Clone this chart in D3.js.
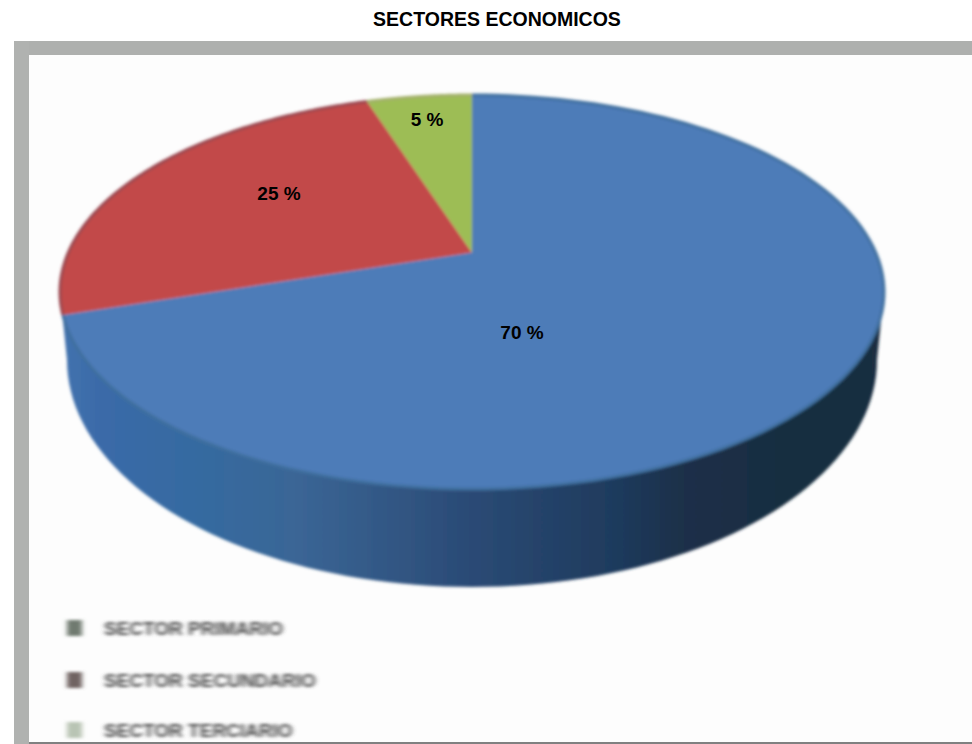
<!DOCTYPE html>
<html>
<head>
<meta charset="utf-8">
<script src="https://cdn.jsdelivr.net/npm/d3@7"></script>
<style>
  html, body { margin: 0; padding: 0; background: #fff; }
  svg { display: block; }
  text { font-family: "Liberation Sans", Arial, sans-serif; }
</style>
</head>
<body>
<svg id="chart"></svg>
<script>
const WIDTH = 972;
const HEIGHT = 744;

const title = 'SECTORES ECONOMICOS';
const shares = [70, 25, 5];
const sliceColors = ['#4d7cb8', '#c24a48', '#9dbd55'];
const rimColors = ['#3f6f9f', '#994650', '#a3b06a'];
const valueLabels = ['70 %', '25 %', '5 %'];
const labelXs = [522, 279, 427];
const labelYs = [339, 200, 126];
const legendNames = ['SECTOR PRIMARIO', 'SECTOR SECUNDARIO', 'SECTOR TERCIARIO'];
const legendColors = ['#707a70', '#6f6462', '#b9c4b4'];
const legendRows = [628, 680, 730];

const svg = d3.select('#chart').attr('width', WIDTH).attr('height', HEIGHT);
const defs = svg.append('defs');

defs.append('filter').attr('id', 'soft').append('feGaussianBlur').attr('stdDeviation', 1.5);
defs.append('filter').attr('id', 'smear').append('feGaussianBlur').attr('stdDeviation', '2.5 1.4');

const wallGrad = defs.append('linearGradient').attr('id', 'wall');
[[0, '#4373ae'], [0.05, '#3a6aa8'], [0.17, '#356aa0'], [0.29, '#3a6595'], [0.5, '#2a4a75'], [0.68, '#1e3a5c'], [0.76, '#1f2f48'], [0.89, '#152f40'], [1, '#1a2c40']]
    .forEach(s => wallGrad.append('stop').attr('offset', s[0]).attr('stop-color', s[1]));

// frame: only the top and left bars are grey, the bottom is a thin dark line
svg.append('rect').attr('x', 14).attr('y', 41).attr('width', 958).attr('height', 703).attr('fill', '#fdfdfd');
svg.append('rect').attr('x', 14).attr('y', 41).attr('width', 958).attr('height', 14).attr('fill', '#aeb0ae');
svg.append('rect').attr('x', 14).attr('y', 41).attr('width', 15).attr('height', 703).attr('fill', '#b0b2b0');
svg.append('rect').attr('x', 29).attr('y', 742).attr('width', 943).attr('height', 2).attr('fill', '#808080');

svg.append('text').attr('x', 497).attr('y', 26).attr('text-anchor', 'middle')
    .attr('font-size', 19.5).attr('font-weight', 'bold').text(title);

// top of the pie
const cx = 472, cy = 292, rx = 412, ry = 197;
const apexShift = -0.2;
// wall outline, lower ellipse
const wallCy = 360, wallRx = 405, wallRy = 227;

// perspective: keeps the rim on the ellipse, moves the pie centre up to the apex
function project(angle, r) {
  const u = r * Math.sin(angle), v = -r * Math.cos(angle);
  const w = 1 + apexShift * v;
  return [
    cx + rx * u * Math.sqrt(1 - apexShift * apexShift) / w,
    cy + ry * (v + apexShift) / w
  ];
}

const pie = d3.pie().sort(null);
const slices = pie(shares);
const line = d3.line();

function rimPoints(d) {
  return d3.range(0, 121).map(i => project(d.startAngle + (d.endAngle - d.startAngle) * i / 120, 1));
}

const chart = svg.append('g').attr('filter', 'url(#soft)');

const wallAngles = d3.range(0, 181, 2).map(a => a * Math.PI / 180);
const wallLower = wallAngles.map(a => [cx + wallRx * Math.cos(a), wallCy + wallRy * Math.sin(a)]);
const wallUpper = wallAngles.slice().reverse().map(a => [cx + rx * Math.cos(a), cy + ry * Math.sin(a)]);
chart.append('path').attr('d', line(wallLower.concat(wallUpper)) + 'Z').attr('fill', 'url(#wall)');

chart.selectAll('path.slice').data(slices).join('path')
    .attr('class', 'slice')
    .attr('d', d => line([project(0, 0)].concat(rimPoints(d))) + 'Z')
    .attr('fill', (d, i) => sliceColors[i]);

chart.selectAll('path.rim').data(slices).join('path')
    .attr('class', 'rim')
    .attr('d', d => line(rimPoints(d)))
    .attr('fill', 'none')
    .attr('stroke', (d, i) => rimColors[i])
    .attr('stroke-width', 3);

svg.selectAll('text.value').data(valueLabels).join('text')
    .attr('class', 'value')
    .attr('x', (d, i) => labelXs[i]).attr('y', (d, i) => labelYs[i])
    .attr('text-anchor', 'middle').attr('font-size', 19).attr('font-weight', 'bold')
    .text(d => d);

// legend, as blurred in the source picture
const legend = svg.selectAll('g.legend').data(legendNames).join('g')
    .attr('class', 'legend')
    .attr('filter', 'url(#smear)')
    .attr('transform', (d, i) => `translate(0,${legendRows[i]})`);
legend.append('rect').attr('x', 67).attr('y', -8).attr('width', 15).attr('height', 16)
    .attr('fill', (d, i) => legendColors[i]);
legend.append('text').attr('x', 104).attr('y', 7).attr('font-size', 19).attr('font-weight', 'bold')
    .attr('fill', '#444').text(d => d);
</script>
</body>
</html>
